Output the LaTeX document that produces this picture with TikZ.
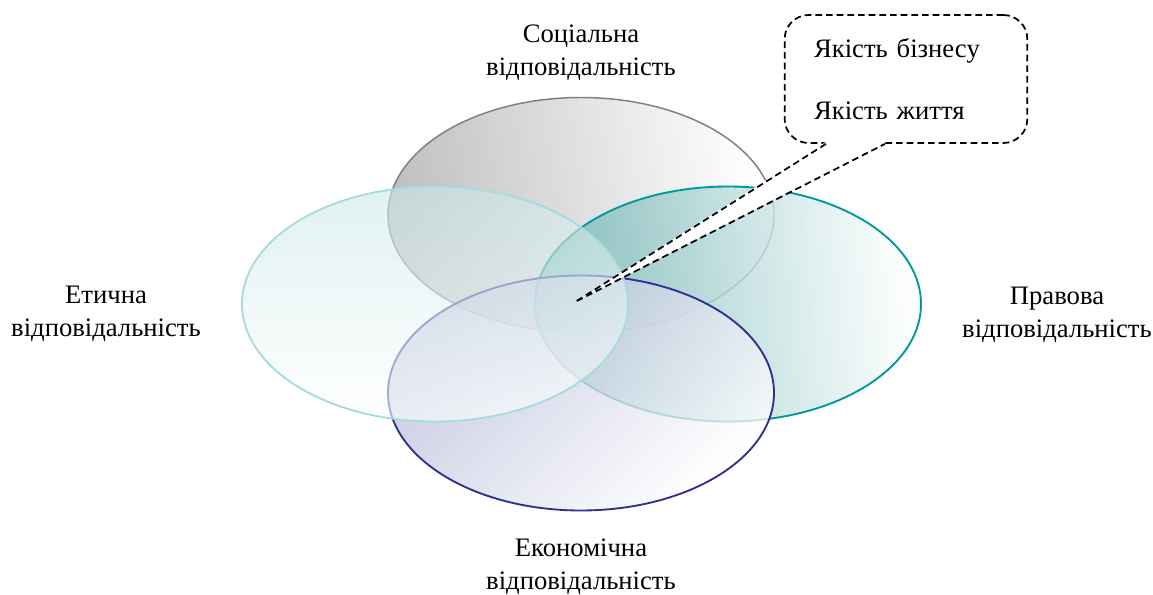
\documentclass[tikz,border=0pt]{standalone}
\usepackage{fontspec}
\setmainfont{Liberation Serif}
\usetikzlibrary{positioning,calc}

\definecolor{socline}{HTML}{7F7F7F}
\definecolor{socfill}{HTML}{B4B4B4}
\definecolor{legalline}{HTML}{009999}
\definecolor{legalfill}{HTML}{6EB4B4}
\definecolor{econline}{HTML}{2E3192}
\definecolor{econfill}{HTML}{B4B8D8}
\definecolor{ethicline}{HTML}{A8DCDC}
\definecolor{ethicfill}{HTML}{CCE8E8}

\tikzset{
  label text/.style={align=center, font=\fontsize{20}{24.5}\selectfont},
  circle line/.style={line width=1.4pt},
  callout line/.style={draw=black, line width=1.3pt, dash pattern=on 5pt off 3pt},
  quality box/.style={callout line, rounded corners=18pt, minimum width=181.5pt,
    minimum height=96pt, text width=138pt, inner xsep=22pt, align=left,
    font=\fontsize{20}{24.5}\selectfont}
}

\begin{document}
\begin{tikzpicture}[x=0.75pt, y=0.75pt]
    \useasboundingbox (0,0) rectangle (1153,594);

    % centres of the four ellipses
    \coordinate (social) at (581,379);
    \coordinate (legal) at (728,290);
    \coordinate (econ) at (581,201);
    \coordinate (ethic) at (435,290);

    % social
    \shade[fill opacity=.85, left color=socfill, right color=white, shading angle=100]
        (social) ellipse [x radius=193, y radius=117.5];
    \draw[circle line, line width=1.1pt, socline] (social) ellipse [x radius=193, y radius=117.5];

    % legal
    \shade[fill opacity=.8, left color=legalfill, right color=white, shading angle=95]
        (legal) ellipse [x radius=193, y radius=117.5];
    \draw[circle line, legalline] (legal) ellipse [x radius=193, y radius=117.5];

    % economic
    \shade[fill opacity=.75, top color=econfill, bottom color=white, shading angle=45]
        (econ) ellipse [x radius=193, y radius=117.5];
    \draw[circle line, econline] (econ) ellipse [x radius=193, y radius=117.5];

    % ethic
    \shade[fill opacity=.6, top color=ethicfill, bottom color=white]
        (ethic) ellipse [x radius=193, y radius=117.5];
    \draw[circle line, ethicline] (ethic) ellipse [x radius=193, y radius=117.5];

    % labels
    \node[label text] (social label) at (581,541) {Соціальна\\відповідальність};
    \node[label text] (ethic label) at (106,280) {Етична\\відповідальність};
    \node[label text] (legal label) at (1057,279) {Правова\\відповідальність};
    \node[label text] (econ label) at (581,27) {Економічна\\відповідальність};

    % callout
    \node[quality box] (quality) at (906,515) {Якість бізнесу\\[22.5pt]Якість життя};
    \coordinate (tip) at (575,292);
    \coordinate (base left) at ($(quality.south)+(-80,0)$);
    \coordinate (base right) at ($(quality.south)+(-21,0)$);
    \fill[white] ($(base left)+(0,2)$) -- (tip) -- ($(base right)+(0,2)$) -- cycle;
    \draw[callout line] (base left) -- (tip) -- (base right);
\end{tikzpicture}
\end{document}
